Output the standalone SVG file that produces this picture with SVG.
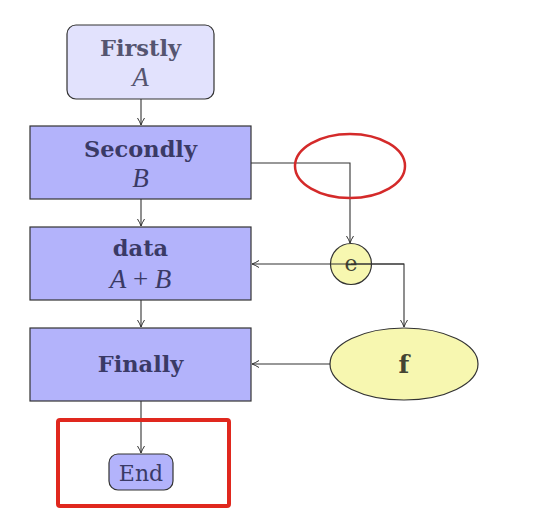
<svg xmlns="http://www.w3.org/2000/svg" width="540" height="526" viewBox="0 0 540 526">
<defs>
<marker id="arr" viewBox="0 0 10 10" refX="9" refY="5" markerWidth="10" markerHeight="10" markerUnits="userSpaceOnUse" orient="auto">
<path d="M2,1.5 Q6,4 9,5 Q6,6 2,8.5" fill="none" stroke="#333" stroke-width="1"/>
</marker>
</defs>
<style>
.box{fill:#b3b3fb;stroke:#333;stroke-width:1.2}
.yel{fill:#f7f7b0;stroke:#333;stroke-width:1.2}
.t{font-family:"DejaVu Serif","Liberation Serif",serif;fill:#3a3a66;text-anchor:middle}
.b{font-weight:bold;font-size:22.5px}
.i{font-family:"Liberation Serif",serif;font-style:italic;font-size:27px}
.c{stroke:#333;stroke-width:1.1;fill:none}
</style>
<rect width="540" height="526" fill="#fff"/>
<g id="connectors">
<path class="c" d="M141,99 V125" marker-end="url(#arr)"/>
<path class="c" d="M141,199 V226" marker-end="url(#arr)"/>
<path class="c" d="M141,300 V327" marker-end="url(#arr)"/>
<path class="c" d="M141,401 V453" marker-end="url(#arr)"/>
<path class="c" d="M251,163 H350 V243" marker-end="url(#arr)"/>
<path class="c" d="M330,364 H252" marker-end="url(#arr)"/>
</g>
<g id="firstly">
<rect x="67" y="25" width="147" height="74" rx="9" fill="#e2e2fd" stroke="#333" stroke-width="1.2"/>
<text class="t b" x="140.5" y="56" style="fill:#555570">Firstly</text>
<text class="t i" x="140.5" y="86" style="fill:#555570">A</text>
</g>
<g id="secondly">
<rect class="box" x="30" y="126" width="221" height="73"/>
<text class="t b" x="140.5" y="157">Secondly</text>
<text class="t i" x="140.5" y="187">B</text>
</g>
<g id="data">
<rect class="box" x="30" y="227" width="221" height="73"/>
<text class="t b" x="140.5" y="256">data</text>
<text class="t i" x="140.5" y="288">A<tspan font-style="normal"> + </tspan>B</text>
</g>
<g id="finally">
<rect class="box" x="30" y="328" width="221" height="73"/>
<text class="t b" x="140.5" y="372">Finally</text>
</g>
<g id="end">
<rect class="box" x="109" y="454" width="64" height="36" rx="9"/>
<text class="t" x="141" y="481" font-size="22">End</text>
</g>
<g id="red-box">
<rect x="58" y="420" width="171" height="86" rx="2" fill="none" stroke="#e0281e" stroke-width="4"/>
</g>
<g id="red-ellipse">
<ellipse cx="350" cy="166" rx="55" ry="32" fill="none" stroke="#d42a2a" stroke-width="2.5"/>
</g>
<g id="e">
<circle class="yel" cx="351" cy="264" r="20.5"/>
<text class="t" x="351" y="271" font-size="22" style="fill:#444433">e</text>
</g>
<g id="f">
<ellipse class="yel" cx="404" cy="364" rx="74" ry="36"/>
<text class="t" x="404" y="373" font-size="25" style="fill:#444433;font-weight:bold">f</text>
</g>
<g id="connectors-over">
<path class="c" d="M404,264 H252" marker-end="url(#arr)"/>
<path class="c" d="M351,264 H404 V327" marker-end="url(#arr)"/>
</g>
</svg>
